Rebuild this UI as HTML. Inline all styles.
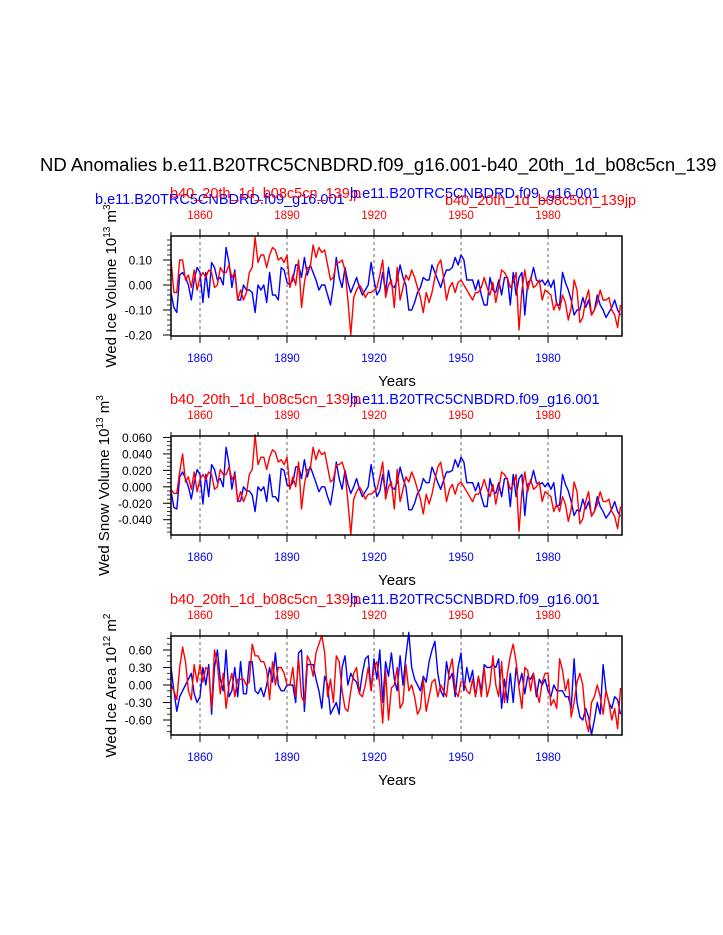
<!DOCTYPE html>
<html><head><meta charset="utf-8"><style>
body{margin:0;background:#fff;}
svg{display:block;font-family:"Liberation Sans",Arial,sans-serif;}
</style></head><body>
<svg id="c" width="723" height="935">
<text x="40" y="171" font-size="18.5">ND Anomalies b.e11.B20TRC5CNBDRD.f09_g16.001-b40_20th_1d_b08c5cn_139</text>
</svg>
<script>
const years = [];
for (let y = 1850; y <= 2005; y++) years.push(y);
const xTicks = [1860, 1890, 1920, 1950, 1980];
const iceVolBlue = [-3,-9,-11,4,5,3,0,-6,2,7, 5,-7,5,-5,9,7,2,3,0,15, 9,-1,6,-6,-6,0,-2,-2,-3,-11, 0,-2,0,-7,5,-4,-4,-6,7,6, 1,0,2,8,8,3,11,4,8,5, 2,-2,0,0,-4,-8,0,11,3,-1, 7,1,-3,0,3,-1,-4,-2,0,9, 2,-4,-2,5,-3,7,0,-1,2,8, 3,0,-10,-10,-7,-3,-1,3,2,2, 8,5,2,-1,3,6,6,7,11,8, 12,10,2,2,2,-2,2,-4,-8,-8, 3,-2,-3,2,-4,3,3,-8,5,-4, 3,5,-12,1,2,7,2,1,2,0, 2,-1,2,-8,-8,5,1,-2,-6,-12, -10,-10,-5,-9,-6,-12,-10,-4,-8,-10, -13,-11,-9,-6,-10,-12];
const iceVolRed = [10,-3,-3,10,10,2,4,-1,6,-2, 3,5,3,6,5,-1,0,7,5,5, 8,3,5,-6,-2,-6,-3,5,7,19, 9,12,12,7,12,15,14,10,11,9, 12,-1,4,0,10,-9,1,7,7,16, 11,15,13,14,8,2,3,9,9,10, 6,-6,-20,-5,-2,0,-2,-5,-3,-3, -2,-1,4,10,-5,0,2,-9,7,-6, -1,4,2,6,3,-1,-5,-11,-3,-7, -3,3,8,10,3,-6,-1,1,-3,1, 2,0,-2,-4,-6,-3,-3,-1,3,-1, -4,1,-7,-1,6,5,3,-1,1,5, -18,-2,6,-2,3,-1,0,2,-6,-2, -3,-4,-10,-7,-10,-4,-7,-14,-9,2, -2,-15,-13,-6,-2,-12,-10,-7,-2,-6, -6,-5,-10,-12,-17,-8];
const snowBlue = [-5,-25,-27,12,18,10,0,-15,5,21, 15,-21,15,-12,27,21,6,10,0,48, 28,-3,18,-18,-17,0,-5,-5,-10,-30, 0,-5,0,-18,15,-12,-12,-18,22,20, 3,0,5,24,25,10,33,12,25,15, 5,-6,0,0,-12,-22,0,30,10,-3, 20,3,-8,0,10,-3,-12,-6,0,27, 6,-12,-5,15,-8,20,0,-3,5,24, 10,0,-28,-28,-20,-8,-3,10,5,5, 24,15,5,-3,8,18,18,20,33,24, 36,30,5,5,5,-5,5,-12,-24,-24, 10,-5,-8,5,-12,10,10,-24,15,-12, 10,15,-35,3,5,20,5,3,5,0, 5,-3,5,-24,-22,15,3,-5,-18,-35, -28,-30,-15,-27,-18,-35,-30,-12,-24,-30, -38,-33,-27,-18,-30,-36];
const snowRed = [-3,-8,-8,18,40,6,12,-3,18,-6, 9,15,9,18,15,-3,0,21,15,15, 24,9,15,-18,-6,-18,-9,15,21,63, 27,36,36,21,36,45,42,30,33,27, 36,-3,12,0,30,-27,3,21,21,48, 33,45,39,42,24,6,9,27,27,30, 18,-18,-58,-15,-6,0,-6,-15,-9,-9, -6,-3,12,30,-15,0,6,-27,21,-18, -3,12,6,18,9,-3,-15,-33,-9,-21, -9,9,24,30,9,-18,-3,3,-9,3, 6,0,-6,-12,-18,-9,-9,-3,9,-3, -12,3,-21,-3,18,15,9,-3,3,15, -54,-6,18,-6,9,-3,0,6,-18,-6, -9,-12,-30,-21,-30,-12,-21,-42,-27,6, -6,-45,-39,-18,-6,-36,-30,-21,-6,-18, -18,-15,-30,-36,-51,-24];
const areaBlue = [30,-10,-45,-20,-10,0,10,20,-15,-30, -20,30,0,35,-50,30,60,10,-10,60, -20,-10,30,-20,40,-15,-15,40,40,-10, -15,-5,-20,0,30,5,55,0,-10,-10, 0,0,0,-30,55,60,-45,35,35,35, 10,-10,-40,15,0,-50,-40,-30,-50,30, 50,0,20,10,5,-15,20,45,50,-10, 45,10,60,-30,40,15,55,10,-10,50, 0,50,90,30,10,0,-10,15,5,40, 60,75,20,-10,-20,40,10,20,-20,30, 55,-10,30,5,25,-20,15,-10,35,30, 30,35,30,45,-40,10,-30,20,-30,30, 0,20,-15,15,10,20,-20,10,0,10, -10,-20,0,-10,-10,-10,-20,-20,-40,45, -30,-55,-60,-40,-55,-85,-60,-30,-50,35, -10,-30,-40,-20,-25,-50];
const areaRed = [0,-10,-25,30,65,40,-10,-25,35,5, 35,5,30,25,-40,60,35,-15,20,-40, 0,20,-20,10,10,10,0,5,70,50, 50,40,40,25,-25,40,0,30,30,20, 0,0,30,-20,45,-20,-30,50,40,15, 55,70,85,55,-20,10,-30,50,40,-10, -40,-45,-10,20,30,-15,-20,0,30,-10, 30,40,0,-65,25,-60,-5,0,30,-40, -30,35,-10,0,-20,-50,-40,10,-45,-20, 5,10,-20,0,-10,-20,25,45,-10,-20, 5,5,-10,-15,10,-20,15,-20,30,-20, 0,50,0,-20,40,-30,20,50,70,40, -5,-40,30,25,-10,20,-10,-30,5,20, 20,-35,-25,-40,45,25,-10,10,-55,-30, 5,20,0,-60,-80,-30,-20,0,-20,-50, -10,-30,-60,-40,-75,-5];

const NS = "http://www.w3.org/2000/svg";
const svg = document.getElementById('c');
function mk(tag, attrs, parent) {
  const e = document.createElementNS(NS, tag);
  for (const k in attrs) e.setAttribute(k, attrs[k]);
  (parent || svg).appendChild(e);
  return e;
}
const X0 = 171, X1 = 622;
function xs(yr) { return X0 + (yr - 1850) * (X1 - X0) / 155.5; }

const panels = [
  {top:236, bot:336, vTop:0.196, vBot:-0.204, scale:0.01, blue:iceVolBlue, red:iceVolRed,
   yt:[0.10,0.00,-0.10,-0.20], fmt:2, minor:0.02, title:"Wed Ice Volume 10", sup:"13", unit:" m", usup:"3", tx:110, name:"ice-volume"},
  {top:436, bot:535, vTop:0.0618, vBot:-0.0586, scale:0.001, blue:snowBlue, red:snowRed,
   yt:[0.060,0.040,0.020,0.000,-0.020,-0.040], fmt:3, minor:0.005, title:"Wed Snow Volume 10", sup:"13", unit:" m", usup:"3", tx:103, name:"snow-volume"},
  {top:636, bot:735, vTop:0.84, vBot:-0.857, scale:0.01, blue:areaBlue, red:areaRed,
   yt:[0.60,0.30,0.00,-0.30,-0.60], fmt:2, minor:0.1, title:"Wed Ice Area 10", sup:"12", unit:" m", usup:"2", tx:110, name:"ice-area"}
];

panels.forEach((p, pi) => {
  const g = mk('g', {});
  
  
  const ys = v => p.top + (p.vTop - v) / (p.vTop - p.vBot) * (p.bot - p.top);
  xTicks.forEach(t => {
    const l = mk('line', {x1:xs(t), x2:xs(t), y1:p.top, y2:p.bot, stroke:'#444', 'stroke-width':0.8, 'stroke-dasharray':'3,3'}, g);
    
    
  });
  for (let yr = 1850; yr <= 2005; yr += 10) {
    const major = xTicks.includes(yr);
    const len = major ? 7 : 4;
    mk('line', {x1:xs(yr), x2:xs(yr), y1:p.top, y2:p.top - len, stroke:'#000', 'stroke-width':1}, g);
    mk('line', {x1:xs(yr), x2:xs(yr), y1:p.bot, y2:p.bot + len, stroke:'#000', 'stroke-width':1}, g);
  }
  xTicks.forEach(t => {
    const a = mk('text', {x:xs(t), y:p.top - 17, 'font-size':11.5, fill:'#f00', 'text-anchor':'middle'}, g);
    a.textContent = t;
    
    
    const b = mk('text', {x:xs(t), y:p.bot + 26, 'font-size':11.5, fill:'#00f', 'text-anchor':'middle'}, g);
    b.textContent = t;
    
    
  });
  for (let v = Math.ceil(p.vBot / p.minor) * p.minor; v <= p.vTop; v += p.minor) {
    mk('line', {x1:X0 - 4, x2:X0, y1:ys(v), y2:ys(v), stroke:'#000', 'stroke-width':0.8}, g);
  }
  p.yt.forEach(v => {
    mk('line', {x1:X0 - 8, x2:X0, y1:ys(v), y2:ys(v), stroke:'#000', 'stroke-width':1}, g);
    const t = mk('text', {x:X0 - 19, y:ys(v) + 4.5, 'font-size':12, 'text-anchor':'end'}, g);
    t.textContent = v.toFixed(p.fmt);
    
    
  });
  [['blue', p.blue, '#00f'], ['red', p.red, '#f00']].forEach(([nm, arr, col]) => {
    const d = arr.map((v, i) => (i ? 'L' : 'M') + xs(years[i]).toFixed(1) + ',' + ys(v * p.scale).toFixed(1)).join('');
    const path = mk('path', {d:d, fill:'none', stroke:col, 'stroke-width':1.4, 'stroke-linejoin':'round'}, g);
    
    
  });
  const fr = mk('rect', {x:X0, y:p.top, width:X1 - X0, height:p.bot - p.top, fill:'none', stroke:'#000', 'stroke-width':1.5}, g);
  
  
  const xt = mk('text', {x:397, y:p.bot + 50, 'font-size':15, 'text-anchor':'middle'}, g);
  xt.textContent = 'Years';
  
  
  const cy = (p.top + p.bot) / 2;
  const yt = mk('text', {transform:'translate(' + (p.tx + 6) + ',' + cy + ') rotate(-90)', 'font-size':15, 'text-anchor':'middle'}, g);
  
  
  const s1 = mk('tspan', {}, yt); s1.textContent = p.title;
  const s2 = mk('tspan', {dy:-6, 'font-size':10}, yt); s2.textContent = p.sup;
  const s3 = mk('tspan', {dy:6}, yt); s3.textContent = p.unit;
  const s4 = mk('tspan', {dy:-6, 'font-size':10}, yt); s4.textContent = p.usup;
  const subs = pi === 0 ? [
      [95, p.top - 32, '#00f', 'b.e11.B20TRC5CNBDRD.f09_g16.001'],
      [170, p.top - 38, '#f00', 'b40_20th_1d_b08c5cn_139jp'],
      [350, p.top - 38, '#00f', 'b.e11.B20TRC5CNBDRD.f09_g16.001'],
      [445, p.top - 31, '#f00', 'b40_20th_1d_b08c5cn_139jp']]
    : [
      [170, p.top - 32, '#f00', 'b40_20th_1d_b08c5cn_139jp'],
      [350, p.top - 32, '#00f', 'b.e11.B20TRC5CNBDRD.f09_g16.001']];
  subs.forEach(s => {
    const t = mk('text', {x:s[0], y:s[1], 'font-size':14.5, fill:s[2]}, g);
    t.textContent = s[3];
    
    
  });
});
</script>
</body></html>
